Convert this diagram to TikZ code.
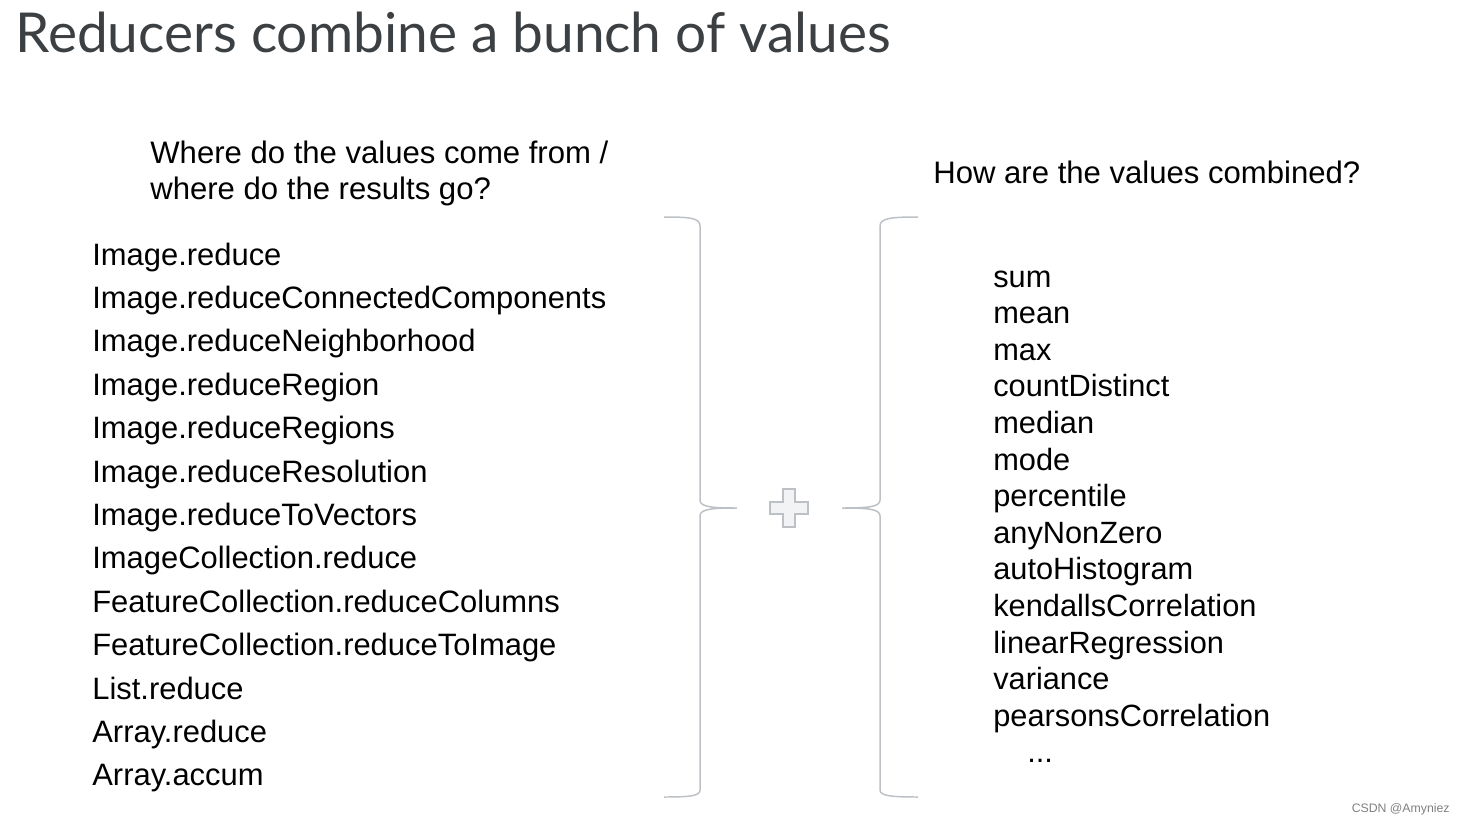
\documentclass[tikz,border=0pt]{standalone}
\usepackage{fontspec}
\setmainfont{Liberation Sans}
\newfontfamily\titlefont{Lato}
\definecolor{titlegray}{HTML}{3C4043}
\definecolor{bracegray}{HTML}{BDC1C6}
\definecolor{plusfill}{HTML}{F1F3F4}

\begin{document}
\begin{tikzpicture}[x=0.02cm, y=-0.02cm]
\tikzset{titre/.style={anchor=base west, inner sep=0, text=titlegray, font=\titlefont\fontsize{31.3}{36}\selectfont},
  question/.style={anchor=north west, inner sep=0, align=left, font=\fontsize{17.7}{20.4}\selectfont},
  source/.style={anchor=base west, inner sep=0, font=\fontsize{17.6}{20}\selectfont},
  combi/.style={anchor=base west, inner sep=0, font=\fontsize{17.5}{20}\selectfont},
  accolade/.style={draw=bracegray, line width=0.85pt}}
\useasboundingbox (0, 0) rectangle (1465, 825);
\node[titre] (T) at (15, 52) {Reducers combine a bunch of values};
\node[question] (Q1) at (150, 141) {Where do the values come from /\\where do the results go?};
\node[question] (Q2) at (933, 161) {How are the values combined?};
% where the values come from
\node[source] (S1) at (92, 265.0) {Image.reduce};
\node[source] (S2) at (92, 308.4) {Image.reduceConnectedComponents};
\node[source] (S3) at (92, 351.8) {Image.reduceNeighborhood};
\node[source] (S4) at (92, 395.2) {Image.reduceRegion};
\node[source] (S5) at (92, 438.6) {Image.reduceRegions};
\node[source] (S6) at (92, 482.0) {Image.reduceResolution};
\node[source] (S7) at (92, 525.4) {Image.reduceToVectors};
\node[source] (S8) at (92, 568.8) {ImageCollection.reduce};
\node[source] (S9) at (92, 612.2) {FeatureCollection.reduceColumns};
\node[source] (S10) at (92, 655.6) {FeatureCollection.reduceToImage};
\node[source] (S11) at (92, 699.0) {List.reduce};
\node[source] (S12) at (92, 742.4) {Array.reduce};
\node[source] (S13) at (92, 785.8) {Array.accum};
% how they are combined
\node[combi] (C1) at (993, 287.0) {sum};
\node[combi] (C2) at (993, 323.6) {mean};
\node[combi] (C3) at (993, 360.2) {max};
\node[combi] (C4) at (993, 396.8) {countDistinct};
\node[combi] (C5) at (993, 433.4) {median};
\node[combi] (C6) at (993, 470.0) {mode};
\node[combi] (C7) at (993, 506.6) {percentile};
\node[combi] (C8) at (993, 543.2) {anyNonZero};
\node[combi] (C9) at (993, 579.8) {autoHistogram};
\node[combi] (C10) at (993, 616.4) {kendallsCorrelation};
\node[combi] (C11) at (993, 653.0) {linearRegression};
\node[combi] (C12) at (993, 689.6) {variance};
\node[combi] (C13) at (993, 726.2) {pearsonsCorrelation};
\node[combi] (C14) at (1027, 762.8) {...};
% braces
\draw[accolade] (664, 217) .. controls (690, 217) and (700, 218) .. (700, 226) -- (700, 500)
  .. controls (700, 507) and (712, 508) .. (737, 508)
  .. controls (712, 508) and (700, 509) .. (700, 516) -- (700, 790)
  .. controls (700, 796) and (690, 797) .. (664, 797);
\draw[accolade] (918, 217) .. controls (892, 217) and (880, 218) .. (880, 226) -- (880, 500)
  .. controls (880, 507) and (868, 508) .. (842, 508)
  .. controls (868, 508) and (880, 509) .. (880, 516) -- (880, 790)
  .. controls (880, 796) and (892, 797) .. (918, 797);
\draw[draw=bracegray, fill=plusfill, line width=0.8pt]
  (783, 489) -- (795, 489) -- (795, 502) -- (808, 502) -- (808, 514) -- (795, 514)
  -- (795, 527) -- (783, 527) -- (783, 514) -- (770, 514) -- (770, 502) -- (783, 502) -- cycle;
\node[anchor=base east, inner sep=0, text=gray, font=\fontsize{7}{8}\selectfont] (W) at (1450, 812) {CSDN @Amyniez};
\end{tikzpicture}
\end{document}
